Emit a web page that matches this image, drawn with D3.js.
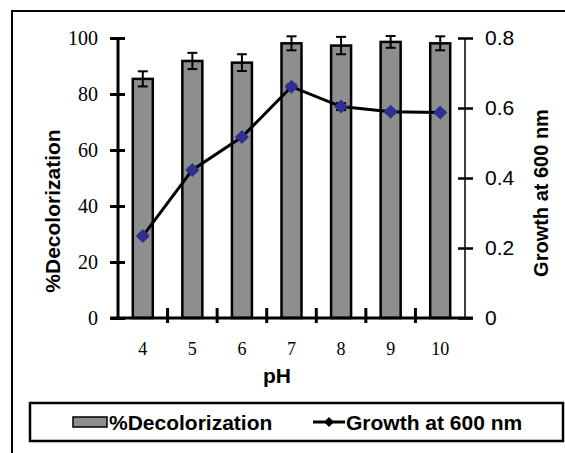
<!DOCTYPE html>
<html>
<head>
<meta charset="utf-8">
<script src="https://cdn.jsdelivr.net/npm/d3@7"></script>
<style>
  body { margin: 0; background: #fff; }
  svg { display: block; }
</style>
</head>
<body>
<svg width="565" height="453"></svg>
<script>
const width = 565;
const height = 453;

const pH = ["4", "5", "6", "7", "8", "9", "10"];
const decolorization = [85.4, 91.8, 91.2, 98.1, 97.3, 98.6, 98.1];
const decolorErr = [2.7, 2.9, 3.0, 2.5, 3.1, 2.1, 2.5];
const growth = [0.234, 0.423, 0.517, 0.661, 0.604, 0.589, 0.587];
const growthErr = [0.004, 0.004, 0.004, 0.006, 0.01, 0.004, 0.004];
const leftTicks = [0, 20, 40, 60, 80, 100];
const rightTicks = [0, 0.2, 0.4, 0.6, 0.8];

const serif = "'Liberation Serif', 'Times New Roman', serif";
const sans = "'Liberation Sans', Arial, sans-serif";
const barFill = "#8e8e8e";
const markerFill = "#2e3192";

const plot = { left: 118, right: 465, top: 38, bottom: 318 };

const svg = d3.select("svg");

// outer frame (right and bottom edges fall outside the picture)
svg.append("rect")
    .attr("x", 12).attr("y", 11)
    .attr("width", 600).attr("height", 500)
    .attr("fill", "none").attr("stroke", "black").attr("stroke-width", 2);

const x = d3.scaleBand().domain(pH).range([plot.left, plot.right]);
const yLeft = d3.scaleLinear().domain([0, 100]).range([plot.bottom, plot.top]);
const yRight = d3.scaleLinear().domain([0, 0.8]).range([plot.bottom, plot.top]);
const barW = 20;
const cx = d => x(d) + x.bandwidth() / 2;

// bars
svg.append("g")
    .selectAll("rect")
    .data(pH)
    .join("rect")
    .attr("x", d => cx(d) - barW / 2)
    .attr("y", (d, i) => yLeft(decolorization[i]))
    .attr("width", barW)
    .attr("height", (d, i) => plot.bottom - yLeft(decolorization[i]))
    .attr("fill", barFill)
    .attr("stroke", "black")
    .attr("stroke-width", 2.5);

// bar error bars
const err = svg.append("g").attr("stroke", "black").attr("stroke-width", 2);
pH.forEach((d, i) => {
    const y1 = yLeft(decolorization[i] + decolorErr[i]);
    const y2 = yLeft(decolorization[i] - decolorErr[i]);
    err.append("line").attr("x1", cx(d)).attr("x2", cx(d)).attr("y1", y1).attr("y2", y2);
    err.append("line").attr("x1", cx(d) - 5).attr("x2", cx(d) + 5).attr("y1", y1).attr("y2", y1);
    err.append("line").attr("x1", cx(d) - 5).attr("x2", cx(d) + 5).attr("y1", y2).attr("y2", y2);
});

// left axis
const axL = svg.append("g")
    .attr("transform", `translate(${plot.left},0)`)
    .call(d3.axisLeft(yLeft).tickValues(leftTicks).tickSize(8).tickPadding(12));
axL.select(".domain").attr("stroke-width", 3).attr("d", `M0,${plot.top}H0V${plot.bottom}`);
axL.selectAll(".tick line").attr("x1", 7).attr("x2", -8).attr("stroke-width", 3);
axL.selectAll(".tick text").attr("font-family", serif).attr("font-size", 20).attr("fill", "black");

// right axis
const axR = svg.append("g")
    .attr("transform", `translate(${plot.right},0)`)
    .call(d3.axisRight(yRight).tickValues(rightTicks).tickSize(8).tickPadding(12)
        .tickFormat(d => d === 0 ? "0" : d3.format(".1f")(d)));
axR.select(".domain").attr("stroke-width", 1.5).attr("d", `M0,${plot.top}H0V${plot.bottom}`);
axR.selectAll(".tick line").attr("x1", -7).attr("x2", 8).attr("stroke-width", 2.5);
axR.selectAll(".tick text").attr("font-family", sans).attr("font-size", 21).attr("fill", "black");

// x axis
const axX = svg.append("g")
    .attr("transform", `translate(0,${plot.bottom})`)
    .call(d3.axisBottom(x).tickSize(0).tickPadding(24));
axX.select(".domain").attr("stroke-width", 3).attr("d", `M${plot.left - 8},0H${plot.right + 8}`);
axX.selectAll(".tick text").attr("font-family", serif).attr("font-size", 18).attr("fill", "black");
axX.append("g")
    .selectAll("line")
    .data(pH.slice(1))
    .join("line")
    .attr("x1", d => x(d)).attr("x2", d => x(d))
    .attr("y1", -10).attr("y2", 5)
    .attr("stroke", "black").attr("stroke-width", 3);

// growth line
const line = d3.line().x((d, i) => cx(pH[i])).y(d => yRight(d));
svg.append("path")
    .datum(growth)
    .attr("d", line)
    .attr("fill", "none")
    .attr("stroke", "black")
    .attr("stroke-width", 3);

const gErr = svg.append("g").attr("stroke", "black").attr("stroke-width", 2);
pH.forEach((d, i) => {
    const y1 = yRight(growth[i] + growthErr[i]);
    const y2 = yRight(growth[i] - growthErr[i]);
    gErr.append("line").attr("x1", cx(d) - 5).attr("x2", cx(d) + 5).attr("y1", y1).attr("y2", y1);
    gErr.append("line").attr("x1", cx(d) - 5).attr("x2", cx(d) + 5).attr("y1", y2).attr("y2", y2);
});

svg.append("g")
    .selectAll("path")
    .data(growth)
    .join("path")
    .attr("transform", (d, i) => `translate(${cx(pH[i])},${yRight(d)})`)
    .attr("d", "M0,-7L7,0L0,7L-7,0Z")
    .attr("fill", markerFill);

// axis titles
svg.append("text")
    .attr("transform", "translate(60,211) rotate(-90)")
    .attr("text-anchor", "middle")
    .attr("font-family", sans).attr("font-weight", "bold").attr("font-size", 21)
    .text("%Decolorization");

svg.append("text")
    .attr("transform", "translate(548,193) rotate(-90)")
    .attr("text-anchor", "middle")
    .attr("font-family", sans).attr("font-weight", "bold").attr("font-size", 20)
    .text("Growth at 600 nm");

svg.append("text")
    .attr("x", 277).attr("y", 383)
    .attr("text-anchor", "middle")
    .attr("font-family", sans).attr("font-weight", "bold").attr("font-size", 21)
    .text("pH");

// legend
const legend = svg.append("g");
legend.append("rect")
    .attr("x", 30).attr("y", 403).attr("width", 533).attr("height", 38)
    .attr("fill", "white").attr("stroke", "black").attr("stroke-width", 2.5);
legend.append("rect")
    .attr("x", 73).attr("y", 417).attr("width", 34).attr("height", 10)
    .attr("fill", barFill).attr("stroke", "black").attr("stroke-width", 1.5);
legend.append("text")
    .attr("x", 109).attr("y", 430)
    .attr("font-family", sans).attr("font-weight", "bold").attr("font-size", 21)
    .text("%Decolorization");
legend.append("line")
    .attr("x1", 313).attr("x2", 345).attr("y1", 422).attr("y2", 422)
    .attr("stroke", "black").attr("stroke-width", 3);
legend.append("path")
    .attr("transform", "translate(329,422)")
    .attr("d", "M0,-5L5,0L0,5L-5,0Z")
    .attr("fill", "black");
legend.append("text")
    .attr("x", 346).attr("y", 430)
    .attr("font-family", sans).attr("font-weight", "bold").attr("font-size", 21)
    .text("Growth at 600 nm");
</script>
</body>
</html>
